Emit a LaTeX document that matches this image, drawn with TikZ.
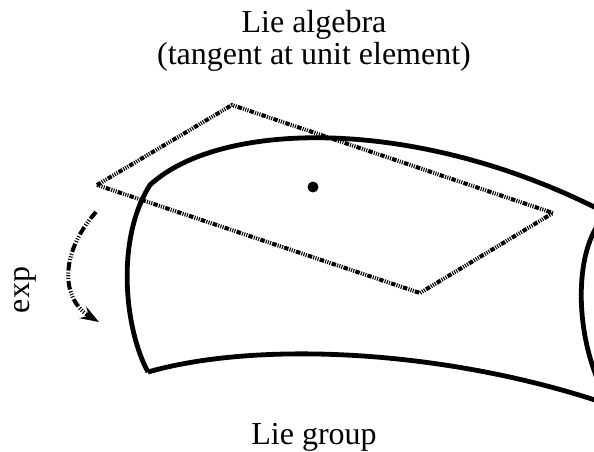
\documentclass[tikz,border=0pt]{standalone}
\usepackage{fontspec}
\setmainfont{Liberation Serif}
\usetikzlibrary{positioning,arrows.meta}

\begin{document}
\begin{tikzpicture}[x=0.75pt,y=-0.75pt,
  surface/.style={line width=3.6pt,line join=round},
  tangent/.style={line width=3pt,dash pattern=on 3.4pt off 0.9pt on 0.8pt off 0.9pt on 0.8pt off 0.9pt on 0.8pt off 0.9pt},
  expmap/.style={line width=3pt,dash pattern=on 6.5pt off 1.5pt on 0.8pt off 1.2pt on 0.8pt off 1.2pt on 0.8pt off 1.5pt},
  label/.style={font=\fontsize{24}{30}\selectfont,anchor=base,inner sep=0pt}]
\useasboundingbox (0,0) rectangle (594,452);
\clip (0,0) rectangle (594,452);
% labels
\node[label] (alg) at (314,33) {Lie algebra};
\node[label] (tan) at (314,65) {(tangent at unit element)};
\node[label] (grp) at (314,445) {Lie group};
\node[label,rotate=90] (exp) at (30,290) {exp};
% group surface
\draw[surface] (148,372) .. controls (125,330) and (115,240) .. (150,185)
  .. controls (220,120) and (420,115) .. (610,215);
\draw[surface] (148,372) .. controls (260,340) and (450,350) .. (610,405);
\draw[surface] (600,222) .. controls (575,255) and (575,330) .. (600,385);
% tangent plane
\coordinate (pl) at (97,185);
\coordinate (pt) at (232,105);
\coordinate (pr) at (553,213);
\coordinate (pb) at (420,293);
\draw[tangent] (pl) -- (pt) -- (pr) -- (pb) -- cycle;
\fill (313,187) circle (5.5);
% exp map
\coordinate (e0) at (96,212);
\coordinate (e1) at (99,322);
\draw[expmap,-{Stealth[length=14pt,width=10pt,inset=5pt]}] (e0) .. controls (58,255) and (62,300) .. (e1);
\end{tikzpicture}
\end{document}
